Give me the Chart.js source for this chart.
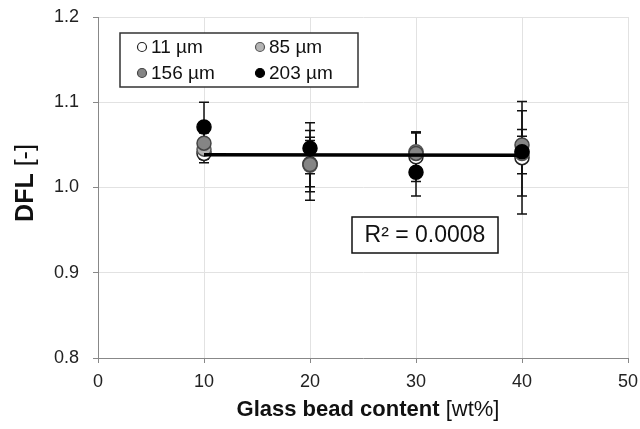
<!DOCTYPE html>
<html><head><meta charset="utf-8">
<script src="https://cdn.jsdelivr.net/npm/chart.js@4/dist/chart.umd.min.js"></script>
<style>html,body{margin:0;padding:0;background:#fff}#wrap{width:640px;height:429px}</style>
</head><body><div id="wrap"><canvas id="c" width="640" height="429"></canvas></div>
<script>
const categories = [10, 20, 30, 40];
const seriesLabels = ['11 µm', '85 µm', '156 µm', '203 µm'];
const dfl11 = [1.040, 1.028, 1.036, 1.035];
const err11 = [0.011, 0.027, 0.029, 0.066];
const dfl85 = [1.045, 1.026, 1.042, 1.040];
const err85 = [0.012, 0.041, 0.023, 0.050];
const dfl156 = [1.052, 1.027, 1.040, 1.050];
const err156 = [0.012, 0.032, 0.024, 0.010];
const dfl203 = [1.071, 1.046, 1.018, 1.042];
const err203 = [0.029, 0.030, 0.028, 0.026];
const trendX = [10, 40];
const trendY = [1.0383, 1.0377];
const rSquaredText = 'R² = 0.0008';
const xTitleBold = 'Glass bead content';
const xTitleNormal = ' [wt%]';
const yTitleBold = 'DFL';
const yTitleNormal = ' [-]';

const FONT = '"Liberation Sans", Arial, sans-serif';
const fills = ['#ffffff', '#b4b4b4', '#858585', '#000000'];
const strokes = ['#222222', '#555555', '#444444', '#000000'];
const values = [dfl11, dfl85, dfl156, dfl203];
const errors = [err11, err85, err156, err203];

const datasets = values.map((v, i) => ({
  label: seriesLabels[i],
  data: categories.map((x, j) => ({x: x, y: v[j]})),
  backgroundColor: fills[i],
  borderColor: strokes[i],
  borderWidth: 1.5,
  pointRadius: 7,
  pointHoverRadius: 7,
  showLine: false,
  order: 10 - i
}));
datasets.push({
  label: 'trend',
  type: 'line',
  data: trendX.map((x, j) => ({x: x, y: trendY[j]})),
  borderColor: '#000',
  borderWidth: 3.5,
  pointRadius: 0,
  showLine: true,
  fill: false,
  order: 0
});

const errorBars = {
  id: 'errorBars',
  beforeDatasetsDraw(chart) {
    const ctx = chart.ctx, xs = chart.scales.x, ys = chart.scales.y;
    ctx.save();
    ctx.strokeStyle = '#111';
    ctx.lineWidth = 1.5;
    values.forEach((v, i) => {
      categories.forEach((x, j) => {
        const px = xs.getPixelForValue(x);
        const top = ys.getPixelForValue(v[j] + errors[i][j]);
        const bot = ys.getPixelForValue(v[j] - errors[i][j]);
        ctx.beginPath();
        ctx.moveTo(px, top); ctx.lineTo(px, bot);
        ctx.moveTo(px - 5, top); ctx.lineTo(px + 5, top);
        ctx.moveTo(px - 5, bot); ctx.lineTo(px + 5, bot);
        ctx.stroke();
      });
    });
    ctx.restore();
  }
};

const decorations = {
  id: 'decorations',
  afterDraw(chart) {
    const ctx = chart.ctx;
    ctx.save();
    // legend box
    ctx.fillStyle = '#fff';
    ctx.fillRect(120, 33, 238, 54);
    ctx.strokeStyle = '#333';
    ctx.lineWidth = 1.5;
    ctx.strokeRect(120, 33, 238, 54);
    const pos = [[142, 47], [260, 47], [142, 73], [260, 73]];
    ctx.font = '19px ' + FONT;
    ctx.textBaseline = 'middle';
    ctx.textAlign = 'left';
    seriesLabels.forEach((lab, i) => {
      const [mx, my] = pos[i];
      ctx.beginPath();
      ctx.arc(mx, my, 4.5, 0, Math.PI * 2);
      ctx.fillStyle = fills[i];
      ctx.fill();
      ctx.lineWidth = 1.2;
      ctx.strokeStyle = strokes[i];
      ctx.stroke();
      ctx.fillStyle = '#111';
      ctx.fillText(lab, mx + 9, my + 1);
    });
    // R² box
    ctx.fillStyle = '#fff';
    ctx.fillRect(352, 217, 146, 36);
    ctx.strokeStyle = '#111';
    ctx.lineWidth = 1.5;
    ctx.strokeRect(352, 217, 146, 36);
    ctx.fillStyle = '#111';
    ctx.font = '23px ' + FONT;
    ctx.textAlign = 'center';
    ctx.fillText(rSquaredText, 425, 236);
    // x title
    ctx.textBaseline = 'alphabetic';
    ctx.textAlign = 'left';
    ctx.font = 'bold 22px ' + FONT;
    const wb = ctx.measureText(xTitleBold).width;
    ctx.font = '22px ' + FONT;
    const wn = ctx.measureText(xTitleNormal).width;
    let sx = 368 - (wb + wn) / 2;
    ctx.font = 'bold 22px ' + FONT;
    ctx.fillText(xTitleBold, sx, 416);
    ctx.font = '22px ' + FONT;
    ctx.fillText(xTitleNormal, sx + wb, 416);
    // y title
    ctx.translate(33, 183);
    ctx.rotate(-Math.PI / 2);
    ctx.font = 'bold 25px ' + FONT;
    const yb = ctx.measureText(yTitleBold).width;
    ctx.font = '25px ' + FONT;
    const yn = ctx.measureText(yTitleNormal).width;
    const sy = -(yb + yn) / 2;
    ctx.font = 'bold 25px ' + FONT;
    ctx.fillText(yTitleBold, sy, 0);
    ctx.font = '25px ' + FONT;
    ctx.fillText(yTitleNormal, sy + yb, 0);
    ctx.restore();
  }
};

new Chart(document.getElementById('c'), {
  type: 'scatter',
  data: { datasets: datasets },
  plugins: [errorBars, decorations],
  options: {
    responsive: false,
    animation: false,
    events: [],
    layout: { padding: { top: 17, right: 12, left: 0, bottom: 0 } },
    plugins: { legend: { display: false }, tooltip: { enabled: false } },
    scales: {
      x: {
        type: 'linear', min: 0, max: 50,
        ticks: { stepSize: 10, color: '#222', font: { size: 18, family: FONT }, padding: 8 },
        grid: { color: '#e2e2e2', tickColor: '#888', tickLength: 5 },
        border: { color: '#888', width: 1 },
        afterFit(s) { s.height = 71; s.paddingLeft = 0; s.paddingRight = 0; }
      },
      y: {
        min: 0.8, max: 1.2,
        ticks: { stepSize: 0.1, color: '#222', font: { size: 18, family: FONT }, padding: 14,
          callback: v => Number(v).toFixed(1) },
        grid: { color: '#e2e2e2', tickColor: '#888', tickLength: 5 },
        border: { color: '#888', width: 1 },
        afterFit(s) { s.width = 98; s.paddingTop = 0; s.paddingBottom = 0; }
      }
    }
  }
});
</script>
</body></html>
